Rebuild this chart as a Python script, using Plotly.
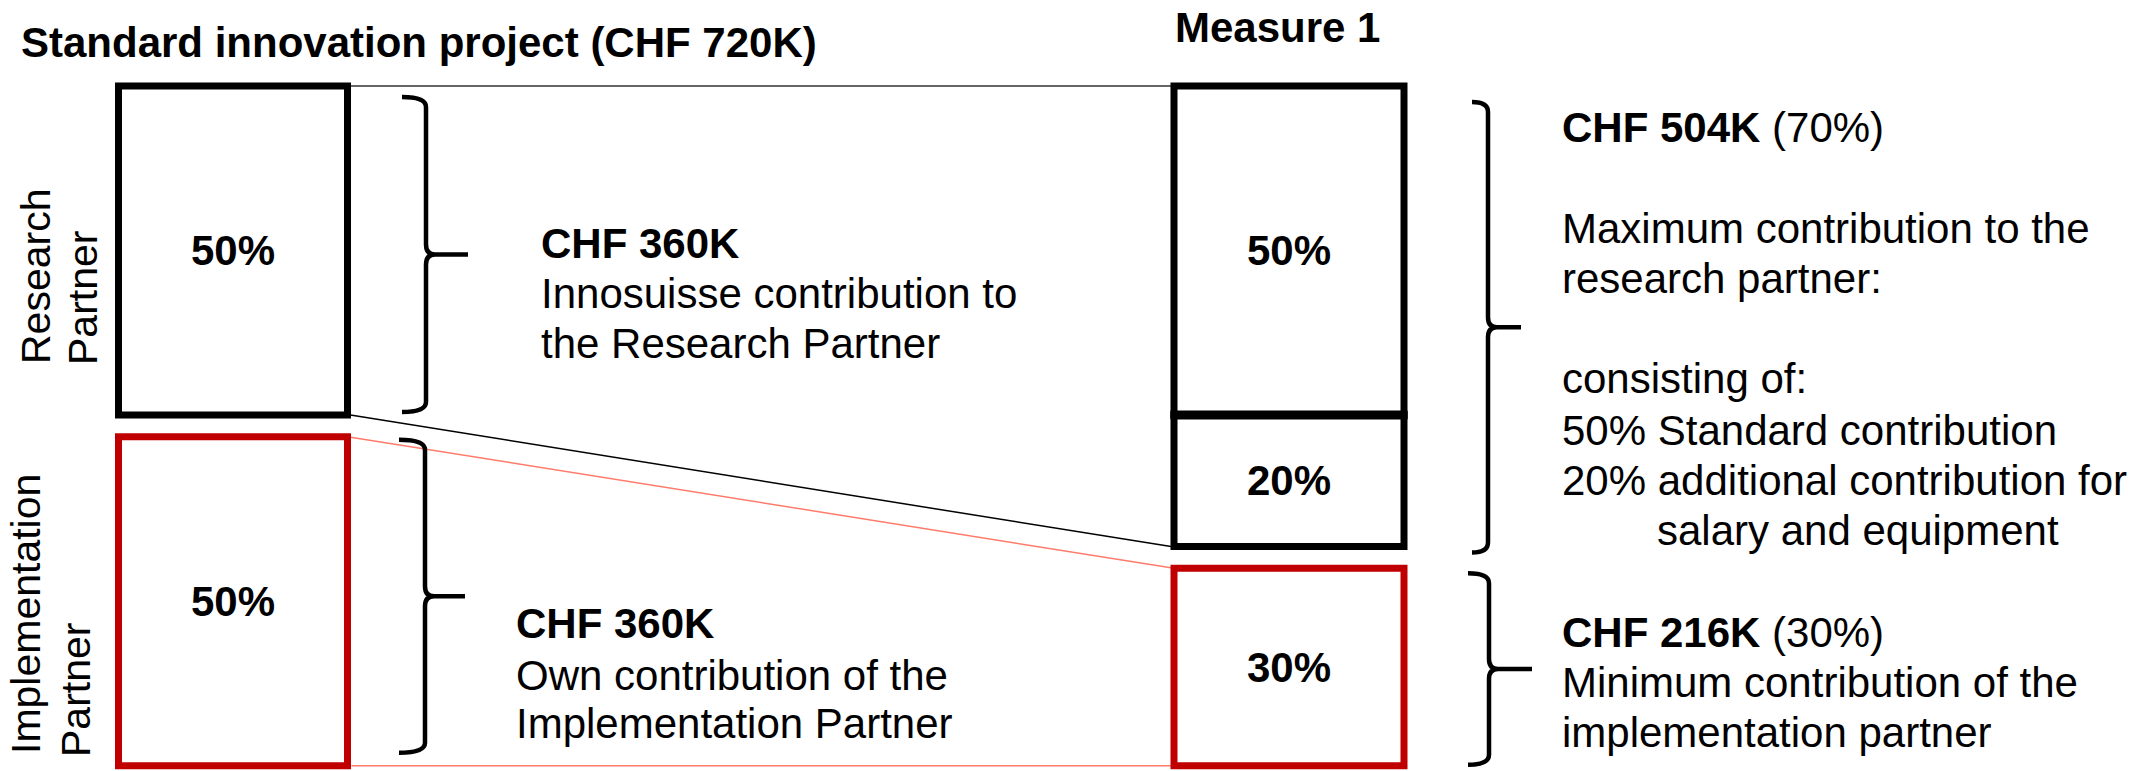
import plotly.graph_objects as go

# ---------------- data ----------------
TOTAL_K = 720                                   # CHF thousand, standard project
standard_parts = ["Research<br>Partner", "Implementation<br>Partner"]
standard_pct = [50, 50]                         # standard innovation project split
measure_pct = [50, 20, 30]                      # Measure 1 split (research std, research add., implementation)
standard_title = f"Standard innovation project (CHF {TOTAL_K}K)"
measure_title = "Measure 1"

# ---------------- layout constants ----------------
W, H = 2145, 771
FONT = "Liberation Sans, Arial, sans-serif"
FS = 42
Y0, K, GAP = 86.0, 6.58, 3.3        # pixel origin, px per percent, gap between partners (percent units)


def u2px(u):
    return Y0 + u * K


def px2u(p):
    return (p - Y0) / K


YMIN, YMAX = px2u(0), px2u(H)
LX0, LX1 = 118.5, 347.5             # left column border centres
MX0, MX1 = 1174, 1404               # measure column border centres
BLACK, RED, SALMON = "#000000", "#C00000", "#FF7B6B"

fig = go.Figure()
shapes, annots = [], []

# ---- left column: standard project ----
r_top, r_bot = 0, standard_pct[0]
i_top, i_bot = standard_pct[0] + GAP, standard_pct[0] + standard_pct[1] + GAP
left_boxes = [(r_top, r_bot, BLACK), (i_top, i_bot, RED)]
for (t, b, c), pct in zip(left_boxes, standard_pct):
    shapes.append(dict(type="rect", xref="x", yref="y", x0=LX0, x1=LX1, y0=t, y1=b,
                       line=dict(color=c, width=7), fillcolor="rgba(0,0,0,0)"))
    annots.append(dict(x=(LX0 + LX1) / 2, y=(t + b) / 2, xref="x", yref="y", text=f"<b>{pct}%</b>",
                       showarrow=False, font=dict(size=FS, color="black", family=FONT)))

# ---- measure column ----
m1_top, m1_bot = 0, measure_pct[0]
m2_top, m2_bot = measure_pct[0], measure_pct[0] + measure_pct[1]
m3_top, m3_bot = m2_bot + GAP, m2_bot + GAP + measure_pct[2]
meas_boxes = [(m1_top, m1_bot, BLACK), (m2_top, m2_bot, BLACK), (m3_top, m3_bot, RED)]
for (t, b, c), pct in zip(meas_boxes, measure_pct):
    shapes.append(dict(type="rect", xref="x", yref="y", x0=MX0, x1=MX1, y0=t, y1=b,
                       line=dict(color=c, width=7), fillcolor="rgba(0,0,0,0)"))
    annots.append(dict(x=(MX0 + MX1) / 2, y=(t + b) / 2, xref="x", yref="y", text=f"<b>{pct}%</b>",
                       showarrow=False, font=dict(size=FS, color="black", family=FONT)))
# thicker divider between the two research parts
shapes.append(dict(type="line", xref="x", yref="y", x0=MX0 - 3.5, x1=MX1 + 3.5, y0=m1_bot, y1=m1_bot,
                   line=dict(color=BLACK, width=9)))

# ---- connector lines ----
conns = [
    (LX1 + 3, r_top, MX0 - 3, m1_top, "#333333"),
    (LX1 + 3, r_bot, MX0 - 3, m2_bot, BLACK),
    (LX1, i_top, MX0, m3_top, SALMON),
    (LX1 + 4, i_bot, MX0 + 6, m3_bot, SALMON),
]
for x0, y0, x1, y1, c in conns:
    shapes.append(dict(type="line", xref="x", yref="y", x0=x0, y0=y0, x1=x1, y1=y1,
                       line=dict(color=c, width=1.5), layer="below"))


# ---- braces ----
def brace(xh, xl, xt, u_top, u_bot, inset_top, inset_bot):
    y0 = u2px(u_top) + inset_top
    y1 = u2px(u_bot) + inset_bot
    ym = (y0 + y1) / 2
    r, rx = 10, 9
    pts = lambda y: px2u(y)
    d = (f"M {xh},{pts(y0)} Q {xl},{pts(y0)} {xl},{pts(y0 + r)} "
         f"L {xl},{pts(ym - r)} Q {xl},{pts(ym)} {xl + rx},{pts(ym)} L {xt},{pts(ym)} "
         f"M {xl + rx},{pts(ym)} Q {xl},{pts(ym)} {xl},{pts(ym + r)} "
         f"L {xl},{pts(y1 - r)} Q {xl},{pts(y1)} {xh},{pts(y1)}")
    shapes.append(dict(type="path", xref="x", yref="y", path=d,
                       line=dict(color="black", width=4.5)))


brace(402, 426, 468, r_top, r_bot, 11, -3)
brace(399, 425, 465, i_top, i_bot, 3, -13)
brace(1472, 1488, 1521, m1_top, m2_bot, 16, 6)
brace(1468, 1489, 1532, m3_top, m3_bot, 5, -1)


# ---- texts ----
def line(x, baseline, s, size=FS, xanchor="left"):
    annots.append(dict(x=x, y=1 - (baseline - 0.347 * size) / H, xref="x", yref="paper",
                       text=s, showarrow=False, xanchor=xanchor, yanchor="middle", borderpad=0,
                       font=dict(size=size, color="black", family=FONT)))


line(20, 57, f"<b>{standard_title}</b>")
line(1277, 42, f"<b>{measure_title}</b>", xanchor="center")

std_k = [TOTAL_K * p // 100 for p in standard_pct]
line(540, 258, f"<b>CHF {std_k[0]}K</b>")
line(540, 308, "Innosuisse contribution to")
line(540, 358, "the Research Partner")
line(515, 638, f"<b>CHF {std_k[1]}K</b>")
line(515, 690, "Own contribution of the")
line(515, 738, "Implementation Partner")

res_pct = measure_pct[0] + measure_pct[1]
imp_pct = measure_pct[2]
line(1561, 142, f"<b>CHF {TOTAL_K * res_pct // 100}K</b> ({res_pct}%)")
line(1561, 243, "Maximum contribution to the")
line(1561, 293, "research partner:")
line(1561, 393, "consisting of:")
line(1561, 445, f"{measure_pct[0]}% Standard contribution")
line(1561, 495, f"{measure_pct[1]}% additional contribution for")
line(1656, 545, "salary and equipment")
line(1561, 647, f"<b>CHF {TOTAL_K * imp_pct // 100}K</b> ({imp_pct}%)")
line(1561, 697, "Minimum contribution of the")
line(1561, 747, "implementation partner")


# ---- rotated partner labels ----
def vlabel(xc, yc, s, size=41):
    annots.append(dict(x=xc, y=1 - yc / H, xref="x", yref="paper", text=s, textangle=-90,
                       showarrow=False, xanchor="center", yanchor="middle", borderpad=0,
                       font=dict(size=size, color="black", family=FONT)))


lab_r = standard_parts[0].split("<br>")
lab_i = standard_parts[1].split("<br>")
vlabel(36, 277, lab_r[0])
vlabel(83, 298, lab_r[1])
vlabel(26, 614, lab_i[0])
vlabel(76, 690, lab_i[1])

fig.update_layout(
    width=W, height=H, margin=dict(l=0, r=0, t=0, b=0),
    paper_bgcolor="white", plot_bgcolor="white", showlegend=False,
    shapes=shapes, annotations=annots,
    xaxis=dict(range=[0, W], visible=False, fixedrange=True),
    yaxis=dict(range=[YMAX, YMIN], visible=False, fixedrange=True),
)
fig.write_html("out.html", config={"displayModeBar": False},
               post_script="document.body.style.margin='0';document.body.style.overflow='hidden';")
